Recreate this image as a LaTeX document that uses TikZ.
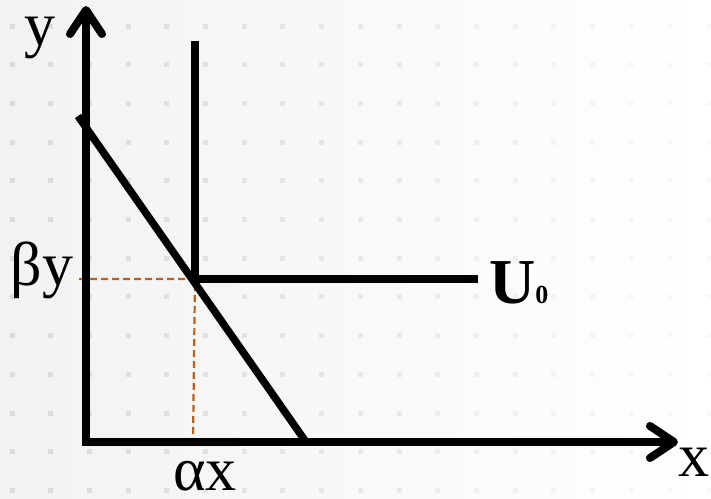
\documentclass[tikz,border=0pt]{standalone}
\usepackage{fontspec}
\setmainfont{Liberation Serif}
\usepackage{tikz}
\usetikzlibrary{arrows.meta}
\definecolor{guidebrown}{RGB}{184,96,28}

\begin{document}
\begin{tikzpicture}[
  x=1pt, y=-1pt,
  axis/.style={line width=8pt, line join=miter,
    {Straight Barb[length=24pt, width=32pt, round]}-{Straight Barb[length=24pt, width=32pt, round]}},
  curve/.style={line width=7.5pt},
  guide/.style={draw=guidebrown, line width=2.2pt, dash pattern=on 7pt off 4pt},
  lbl/.style={font=\fontsize{62}{62}\selectfont, inner sep=0pt, anchor=base,
    text height=30pt, text depth=0pt}
]
% background
\shade[left color=black!5, right color=white] (0,0) rectangle (711,498);
\useasboundingbox (0,0) rectangle (711,498);
\foreach \i in {0,...,18}
  \foreach \j in {0,...,12}{
    \pgfmathsetmacro{\op}{max(0.15,1-\i/20)}
    \fill[black!14, opacity=\op] ({12+38.7*\i-2.5},{26+38.7*\j-2.5}) rectangle +(5,5);
  }

% named points
\coordinate (ytop) at (86,6);
\coordinate (origin) at (86,442);
\coordinate (xend) at (678,442);
\coordinate (kink) at (195,279);
\coordinate (ktop) at (195,41);
\coordinate (kright) at (478,279);
\coordinate (bstart) at (78,116);
\coordinate (bend) at (306,442);
\coordinate (gleft) at (79,279);
\coordinate (gfoot) at (193,442);

% guides
\draw[guide] (gleft) -- (kink) -- (gfoot);

% axes
\draw[axis] (ytop) -- (origin) -- (xend);

% indifference curve and budget line
\draw[curve] (ktop) -- (kink) -- (kright);
\draw[curve] (bstart) -- (bend);

% labels
\node[lbl] (ylab) at (40,45) {y};
\node[lbl] (xlab) at (694,476) {x};
\node[lbl, text height=44pt] (bylab) at (42,285) {βy};
\node[lbl] (axlab) at (205,490) {αx};
\node[lbl, anchor=base west, text height=44pt, font=\fontsize{64}{64}\selectfont\bfseries] (ulab) at (489,303)
  {U\fontsize{26}{26}\selectfont 0};
\end{tikzpicture}
\end{document}
